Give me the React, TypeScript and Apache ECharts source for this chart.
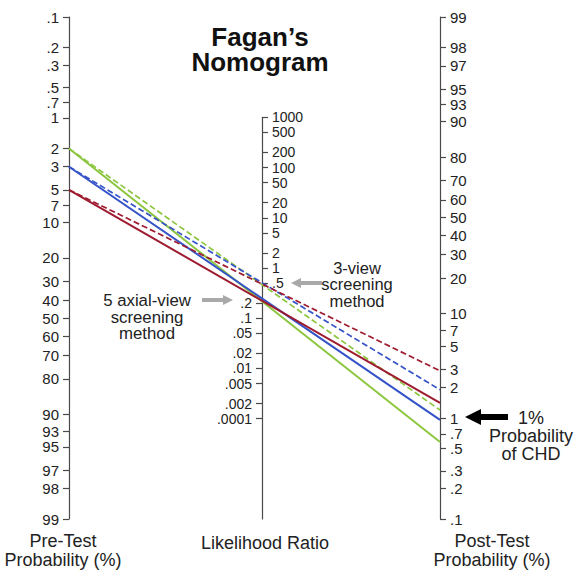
import React, { useEffect, useRef } from 'react';
import * as echarts from 'echarts';

// ---- data ----
const lineColors = ['#8cc63f', '#3553c9', '#9e1b2f'];
const preTest = [2, 3, 5]; // pre-test probability (%) for green, blue, red lines
const postSolid = [0.58, 0.96, 1.41]; // post-test (%) solid lines
const postDashed = [1.2, 1.9, 2.9]; // post-test (%) dashed lines

const preTicks = [0.1, 0.2, 0.3, 0.5, 0.7, 1, 2, 3, 5, 7, 10, 20, 30, 40, 50, 60, 70, 80, 90, 93, 95, 97, 98, 99];
const preTickLabels = ['.1', '.2', '.3', '.5', '.7', '1', '2', '3', '5', '7', '10', '20', '30', '40', '50', '60', '70', '80', '90', '93', '95', '97', '98', '99'];
const postTicks = [99, 98, 97, 95, 93, 90, 80, 70, 60, 50, 40, 30, 20, 10, 7, 5, 3, 2, 1, 0.7, 0.5, 0.3, 0.2, 0.1];
const postTickLabels = ['99', '98', '97', '95', '93', '90', '80', '70', '60', '50', '40', '30', '20', '10', '7', '5', '3', '2', '1', '.7', '.5', '.3', '.2', '.1'];
const lrUpperTicks = [1000, 500, 200, 100, 50, 20, 10, 5, 2, 1, 0.5];
const lrUpperLabels = ['1000', '500', '200', '100', '50', '20', '10', '5', '2', '1', '.5'];
const lrLowerTicks = [0.2, 0.1, 0.05, 0.02, 0.01, 0.005, 0.002, 0.001];
const lrLowerLabels = ['.2', '.1', '.05', '.02', '.01', '.005', '.002', '.0001'];

const FONT = "'Liberation Sans', Arial, Helvetica, sans-serif";
const logit = (pct: number) => Math.log(pct / 100 / (1 - pct / 100));

const nearestFmt = (vals: number[], labels: string[]) => (v: number) => {
  let best = 0;
  for (let i = 1; i < vals.length; i++) {
    if (Math.abs(vals[i] - v) < Math.abs(vals[best] - v)) best = i;
  }
  return labels[best];
};

export default function App() {
  const ref = useRef<HTMLDivElement>(null);
  useEffect(() => {
    if (!ref.current) return;
    const chart = echarts.init(ref.current, undefined, { renderer: 'svg' });

    const GL = 69, GR = 440, GT = 17, GB = 519;
    const H = GB - GT;
    const Lmin = logit(Math.min(...preTicks));
    const Lmax = logit(Math.max(...preTicks));
    const S = (Lmax - Lmin) / Math.LN10; // half range of the LR axis in log10 units
    const midMax = Math.log10(Math.max(...lrUpperTicks));
    const midMin = -S;
    const midTop = GT + ((S - midMax) / (2 * S)) * H;

    const axisColor = '#4a4a4a';
    const labelStyle = { color: '#222', fontSize: 15, fontFamily: FONT, lineHeight: 12 };

    const preVals = preTicks.map(logit);
    const postVals = postTicks.map(logit);
    const upVals = lrUpperTicks.map(Math.log10);
    const lowVals = lrLowerTicks.map(Math.log10);

    const series: any[] = [];
    preTest.forEach((p, i) => {
      series.push({
        type: 'line', xAxisIndex: 0, yAxisIndex: 0, symbol: 'none', silent: true,
        lineStyle: { color: lineColors[i], width: 2, type: 'solid' },
        data: [[0, logit(p)], [1, Lmin + Lmax - logit(postSolid[i])]],
        z: 3,
      });
      series.push({
        type: 'line', xAxisIndex: 0, yAxisIndex: 0, symbol: 'none', silent: true,
        lineStyle: { color: lineColors[i], width: 1.7, type: [6, 3] },
        data: [[0, logit(p)], [1, Lmin + Lmax - logit(postDashed[i])]],
        z: 3,
      });
    });

    const txt = (text: string, x: number, y: number, size: number, extra: any = {}) => ({
      type: 'text', x, y, silent: true,
      style: { text, fill: '#222', font: `${extra.weight || 'normal'} ${size}px ${FONT}`, textAlign: 'center', textVerticalAlign: 'middle', lineHeight: extra.lh || size, ...extra.style },
    });

    chart.setOption({
      animation: false,
      grid: [
        { left: GL, top: GT, width: GR - GL, height: H, outerBoundsMode: 'none' },
        { left: 262, top: midTop, width: 1, height: GB - midTop, outerBoundsMode: 'none' },
      ],
      xAxis: [
        { type: 'value', gridIndex: 0, min: 0, max: 1, show: false },
        { type: 'value', gridIndex: 1, min: 0, max: 1, show: false },
      ],
      yAxis: [
        {
          type: 'value', gridIndex: 0, position: 'left', inverse: true, min: Lmin, max: Lmax,
          splitLine: { show: false },
          axisLine: { show: true, lineStyle: { color: axisColor, width: 1.2 } },
          axisTick: { show: true, customValues: preVals, length: 6, lineStyle: { color: axisColor, width: 1.2 } },
          axisLabel: { customValues: preVals, formatter: nearestFmt(preVals, preTickLabels), margin: 10, ...labelStyle },
        },
        {
          type: 'value', gridIndex: 0, position: 'right', min: Lmin, max: Lmax,
          splitLine: { show: false },
          axisLine: { show: true, lineStyle: { color: axisColor, width: 1.2 } },
          axisTick: { show: true, customValues: postVals, length: 6, lineStyle: { color: axisColor, width: 1.2 } },
          axisLabel: { customValues: postVals, formatter: nearestFmt(postVals, postTickLabels), margin: 10, ...labelStyle },
        },
        {
          type: 'value', gridIndex: 1, position: 'left', min: midMin, max: midMax,
          splitLine: { show: false },
          axisLine: { show: true, lineStyle: { color: axisColor, width: 1.2 } },
          axisTick: { show: true, inside: true, customValues: upVals, length: 6, lineStyle: { color: axisColor, width: 1.2 } },
          axisLabel: { inside: true, customValues: upVals, formatter: nearestFmt(upVals, lrUpperLabels), margin: 10, ...labelStyle, fontSize: 14 },
        },
        {
          type: 'value', gridIndex: 1, position: 'left', min: midMin, max: midMax,
          splitLine: { show: false },
          axisLine: { show: false },
          axisTick: { show: true, customValues: lowVals, length: 6, lineStyle: { color: axisColor, width: 1.2 } },
          axisLabel: { customValues: lowVals, formatter: nearestFmt(lowVals, lrLowerLabels), margin: 10, ...labelStyle, fontSize: 14 },
        },
      ],
      series,
      graphic: [
        txt('Fagan\u2019s', 260, 37, 26, { weight: 'bold', lh: 23, style: { fill: '#111' } }),
        txt('Nomogram', 260, 62, 26, { weight: 'bold', lh: 23, style: { fill: '#111' } }),
        // 3-view annotation
        { type: 'polygon', silent: true, shape: { points: [[291, 283], [301, 278], [301, 281], [322, 281], [322, 285], [301, 285], [301, 288]] }, style: { fill: '#a9a9a9' } },
        txt('3-view\nscreening\nmethod', 357, 284, 16.5, { lh: 16.5 }),
        // 5 axial-view annotation
        { type: 'polygon', silent: true, shape: { points: [[233, 300], [223, 295], [223, 298], [202, 298], [202, 302], [223, 302], [223, 305]] }, style: { fill: '#a9a9a9' } },
        txt('5 axial-view\nscreening\nmethod', 147, 317, 16.8, { lh: 16.8 }),
        // 1% probability of CHD
        { type: 'polygon', silent: true, shape: { points: [[465, 417], [481, 409], [481, 414], [508, 414], [508, 420], [481, 420], [481, 425]] }, style: { fill: '#000' } },
        txt('1%\nProbability\nof CHD', 531, 436, 18, { lh: 18 }),
        // axis titles
        txt('Pre-Test\nProbability (%)', 63, 550, 18, { lh: 19 }),
        txt('Likelihood Ratio', 265, 543, 18),
        txt('Post-Test\nProbability (%)', 492, 550, 18, { lh: 19 }),
      ],
    });
    return () => chart.dispose();
  }, []);
  return <div ref={ref} style={{ position: 'fixed', left: 0, top: 0, width: 576, height: 572, background: '#fff' }} />;
}
